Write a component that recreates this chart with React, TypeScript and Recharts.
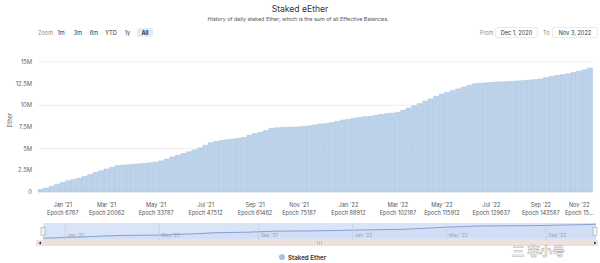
import React from "react";
import {
  BarChart,
  Bar,
  XAxis,
  YAxis,
  CartesianGrid,
  AreaChart,
  Area,
  ReferenceLine,
} from "recharts";

// weekly samples from Dec 1, 2020 to Nov 1, 2022, staked ether in millions
const stakedM = [
  0.3, 0.45, 0.65, 0.9, 1.1, 1.3, 1.45, 1.6, 1.8, 2.0,
  2.25, 2.45, 2.65, 2.85, 3.05, 3.12, 3.15, 3.2, 3.25, 3.3,
  3.38, 3.45, 3.6, 3.8, 4.05, 4.25, 4.45, 4.65, 4.85, 5.1,
  5.4, 5.7, 5.85, 5.95, 6.05, 6.1, 6.2, 6.3, 6.55, 6.75,
  6.9, 7.1, 7.35, 7.42, 7.45, 7.48, 7.5, 7.52, 7.58, 7.65,
  7.75, 7.85, 7.9, 8.0, 8.15, 8.3, 8.4, 8.5, 8.6, 8.7,
  8.75, 8.85, 8.95, 9.05, 9.1, 9.2, 9.45, 9.7, 9.95, 10.2,
  10.5, 10.75, 11.05, 11.3, 11.5, 11.7, 11.9, 12.1, 12.3, 12.5,
  12.55, 12.6, 12.65, 12.7, 12.72, 12.75, 12.78, 12.82, 12.88, 12.92,
  12.98, 13.05, 13.2, 13.35, 13.45, 13.55, 13.65, 13.8, 13.95, 14.1,
  14.3,
];

const yTicks = [0, 2500000, 5000000, 7500000, 10000000, 12500000, 15000000];

const tickWeeks = [4, 12, 21, 30, 39, 47, 56, 65, 73, 82, 91, 100];
const tickMonths = [
  "Jan '21", "Mar '21", "May '21", "Jul '21", "Sep '21", "Nov '21",
  "Jan '22", "Mar '22", "May '22", "Jul '22", "Sep '22", "Nov '22",
];
const tickEpochs = [
  "Epoch 6787", "Epoch 20062", "Epoch 33787", "Epoch 47512", "Epoch 61462", "Epoch 75187",
  "Epoch 88912", "Epoch 102187", "Epoch 115912", "Epoch 129637", "Epoch 143587", "Epoch 15...",
];

const navWeeks = [4, 21, 39, 56, 73, 91];
const navLabels = ["Jan '21", "May '21", "Sep '21", "Jan '22", "May '22", "Sep '22"];

const zoomButtons = [
  { label: "1m", x: 61 },
  { label: "3m", x: 78 },
  { label: "6m", x: 94 },
  { label: "YTD", x: 111 },
  { label: "1y", x: 127.5 },
  { label: "All", x: 145 },
];

const data = stakedM.map((v, i) => ({ week: i, staked: v * 1000000 }));

const FONT = "Inter, 'Liberation Sans', sans-serif";

function MonthTick(props: any) {
  const { x, y, payload } = props;
  const i = tickWeeks.indexOf(payload.value);
  if (i < 0) return null;
  const dx = i === tickWeeks.length - 1 ? -11 : 0;
  return (
    <g transform={`translate(${x + dx},${y})`}>
      <text textAnchor="middle" fontSize={5.6} fill="#555" fontFamily={FONT}>
        <tspan x={0} y={13}>{tickMonths[i]}</tspan>
        <tspan x={0} y={21}>{tickEpochs[i]}</tspan>
      </text>
    </g>
  );
}

function navLabel(text: string) {
  return (p: any) => {
    const vb = p.viewBox || {};
    return (
      <text x={(vb.x || 0) + 2} y={14} fontSize={5} fill="#9aa3b5" fontFamily={FONT}>
        {text}
      </text>
    );
  };
}

export default function App() {
  return (
    <div style={{ position: "absolute", left: 0, top: 0, width: 600, height: 263, background: "#fff", overflow: "hidden" }}>
      <div style={{ position: "absolute", left: 0, top: 0 }}>
        <BarChart
          width={600}
          height={222}
          data={data}
          margin={{ top: 62, right: 7, bottom: 0, left: 0 }}
          barCategoryGap={0}
          barGap={0}
        >
          <CartesianGrid vertical={false} stroke="#e8e8e8" strokeWidth={0.8} />
          <XAxis
            dataKey="week"
            type="category"
            ticks={tickWeeks}
            interval={0}
            tick={<MonthTick />}
            tickLine={false}
            axisLine={false}
            tickSize={0}
            height={30}
          />
          <YAxis
            domain={[0, 15000000]}
            ticks={yTicks}
            width={38}
            tickLine={false}
            axisLine={false}
            tickSize={0}
            tickMargin={6}
            tick={{ fontSize: 5.8, fill: "#666", fontFamily: FONT }}
            tickFormatter={(v: number) => (v === 0 ? "0" : `${v / 1000000}M`)}
          />
          <Bar dataKey="staked" fill="#bcd3ea" stroke="#9fbcdc" strokeWidth={0.4} isAnimationActive={false} />
        </BarChart>
      </div>

      {/* navigator */}
      <div style={{ position: "absolute", left: 43, top: 223, width: 553, height: 17, background: "#d9e4f7" }} />
      <div style={{ position: "absolute", left: 43, top: 223 }}>
        <AreaChart width={553} height={17} data={data} margin={{ top: 0, right: 0, bottom: 0, left: 0 }}>
          <XAxis dataKey="week" type="category" hide />
          <YAxis domain={[-1500000, 15500000]} hide />
          {navWeeks.map((w, i) => (
            <ReferenceLine key={w} x={w} stroke="#c3cfe6" strokeWidth={0.8} label={navLabel(navLabels[i])} />
          ))}
          <Area
            type="linear"
            dataKey="staked"
            stroke="#6f8fc8"
            strokeWidth={0.8}
            fill="#c4d4f0"
            fillOpacity={0.35}
            isAnimationActive={false}
          />
        </AreaChart>
      </div>

      <svg width={600} height={263} style={{ position: "absolute", left: 0, top: 0, pointerEvents: "none" }} fontFamily={FONT}>
        <text x={300} y={12} textAnchor="middle" fontSize={8.6} fill="#333">Staked eEther</text>
        <text x={298} y={21} textAnchor="middle" fontSize={5.4} fill="#555">
          History of daily staked Ether, which is the sum of all Effective Balances.
        </text>

        {/* range selector */}
        <text x={38} y={35} fontSize={5.6} fill="#888">Zoom</text>
        <rect x={137} y={28} width={16} height={9} rx={1.5} fill="#e6ebf5" />
        {zoomButtons.map((b) => (
          <text
            key={b.label}
            x={b.x}
            y={35}
            textAnchor="middle"
            fontSize={5.6}
            fill="#333"
            fontWeight={b.label === "All" ? 700 : 400}
          >
            {b.label}
          </text>
        ))}
        <text x={480} y={35} fontSize={5.6} fill="#888">From</text>
        <rect x={495.5} y={27.5} width={42} height={10} rx={1.5} fill="#fff" stroke="#e2e2e2" strokeWidth={0.7} />
        <text x={516.5} y={35} textAnchor="middle" fontSize={5.6} fill="#333">Dec 1, 2020</text>
        <text x={543} y={35} fontSize={5.6} fill="#888">To</text>
        <rect x={552.5} y={27.5} width={45} height={10} rx={1.5} fill="#fff" stroke="#e2e2e2" strokeWidth={0.7} />
        <text x={575} y={35} textAnchor="middle" fontSize={5.6} fill="#333">Nov 3, 2022</text>

        <text x={12} y={120} textAnchor="middle" fontSize={5.8} fill="#555" transform="rotate(-90 12 120)">Ether</text>

        {/* navigator handles and scrollbar */}
        <rect x={36} y={240} width={562} height={6} fill="#eee0df" />
        <path d="M41 241.5 L38.5 243 L41 244.5 Z" fill="#333" />
        <path d="M594 241.5 L596.5 243 L594 244.5 Z" fill="#333" />
        <line x1={317.5} y1={241.5} x2={317.5} y2={244.5} stroke="#888" strokeWidth={0.5} />
        <line x1={319.5} y1={241.5} x2={319.5} y2={244.5} stroke="#888" strokeWidth={0.5} />
        <line x1={321.5} y1={241.5} x2={321.5} y2={244.5} stroke="#888" strokeWidth={0.5} />
        <rect x={41} y={227.5} width={4} height={8} fill="#f2f2f2" stroke="#999" strokeWidth={0.5} />
        <rect x={593} y={227.5} width={4} height={8} fill="#f2f2f2" stroke="#999" strokeWidth={0.5} />

        {/* legend */}
        <circle cx={282} cy={257} r={3} fill="#a5c3e4" />
        <text x={288} y={259.5} fontSize={6.2} fontWeight={600} fill="#333">Staked Ether</text>

        {/* watermark */}
        <text x={512} y={256} fontSize={12.5} fontWeight={700} fill="#ffffff" fillOpacity={0.9} stroke="#b0b0b0" strokeWidth={0.6} fontFamily="'Noto Sans CJK SC', sans-serif">
          三 非小号
        </text>
      </svg>
    </div>
  );
}
